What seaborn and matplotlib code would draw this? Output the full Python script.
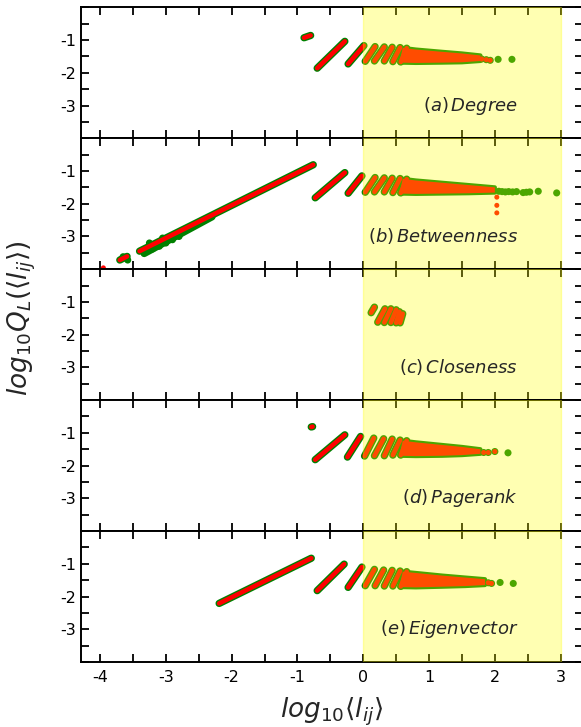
import numpy as np
import pandas as pd
import seaborn as sns
import matplotlib
matplotlib.use('Agg')
import matplotlib.pyplot as plt
from matplotlib.ticker import MultipleLocator, FuncFormatter

# streaks: (x_start, y_start, x_end, y_end)
streaks_a = [(-0.90, -0.93, -0.80, -0.86), (-0.70, -1.86, -0.28, -1.04),
             (-0.23, -1.73, 0.01, -1.17), (0.03, -1.65, 0.18, -1.20),
             (0.17, -1.64, 0.32, -1.21), (0.32, -1.64, 0.44, -1.22),
             (0.45, -1.66, 0.56, -1.23), (0.57, -1.67, 0.66, -1.25)]
streaks_b = [(-3.70, -3.72, -3.59, -3.61), (-3.40, -3.45, -0.76, -0.81),
             (-0.73, -1.82, -0.28, -1.05), (-0.23, -1.68, -0.02, -1.15),
             (0.03, -1.65, 0.18, -1.20), (0.17, -1.64, 0.32, -1.21),
             (0.32, -1.64, 0.44, -1.22), (0.45, -1.66, 0.56, -1.23),
             (0.57, -1.67, 0.66, -1.25)]
streaks_c = [(0.12, -1.33, 0.17, -1.16), (0.22, -1.62, 0.33, -1.21),
             (0.32, -1.63, 0.42, -1.21), (0.42, -1.63, 0.50, -1.24),
             (0.50, -1.64, 0.55, -1.30), (0.56, -1.64, 0.60, -1.36)]
streaks_d = [(-0.79, -0.82, -0.77, -0.81), (-0.73, -1.82, -0.28, -1.06),
             (-0.24, -1.74, -0.04, -1.11), (0.02, -1.71, 0.16, -1.16),
             (0.17, -1.70, 0.31, -1.18), (0.32, -1.70, 0.44, -1.19),
             (0.45, -1.68, 0.56, -1.22), (0.57, -1.68, 0.66, -1.24)]
streaks_e = [(-2.19, -2.21, -0.79, -0.83), (-0.70, -1.82, -0.29, -1.01),
             (-0.23, -1.72, -0.02, -1.10), (0.03, -1.67, 0.17, -1.17),
             (0.18, -1.67, 0.31, -1.19), (0.32, -1.68, 0.44, -1.20),
             (0.45, -1.68, 0.56, -1.22), (0.57, -1.69, 0.66, -1.24)]

# green-only streak (spread of the green series under the long one in (b))
green_streaks_b = [(-3.33, -3.52, -2.30, -2.40)]

# dense fan of points: upper edge and lower edge
fan_tx_a = [0.60, 0.8, 1.2, 1.5, 1.78]
fan_ty_a = [-1.24, -1.29, -1.36, -1.41, -1.47]
fan_bx_a = [0.55, 0.8, 1.2, 1.5, 1.78]
fan_by_a = [-1.69, -1.70, -1.69, -1.68, -1.64]
fan_tx_b = [0.60, 0.8, 1.2, 1.6, 2.0]
fan_ty_b = [-1.24, -1.29, -1.36, -1.43, -1.50]
fan_bx_b = [0.55, 0.8, 1.2, 1.6, 2.0]
fan_by_b = [-1.69, -1.70, -1.69, -1.68, -1.66]
fan_tx_d = [0.60, 0.8, 1.2, 1.5, 1.78]
fan_ty_d = [-1.24, -1.29, -1.37, -1.43, -1.50]
fan_bx_d = [0.55, 0.8, 1.2, 1.5, 1.78]
fan_by_d = [-1.70, -1.71, -1.70, -1.68, -1.64]
fan_tx_e = [0.60, 0.8, 1.2, 1.55, 1.85]
fan_ty_e = [-1.24, -1.28, -1.36, -1.42, -1.47]
fan_bx_e = [0.55, 0.8, 1.2, 1.55, 1.85]
fan_by_e = [-1.71, -1.72, -1.70, -1.68, -1.65]

# single points: both series (red on green)
both_x_a = [1.80, 1.87, 1.93]
both_y_a = [-1.58, -1.60, -1.62]
both_x_d = [1.83, 1.90, 2.00]
both_y_d = [-1.60, -1.60, -1.57]
both_x_e = [1.90, 1.95]
both_y_e = [-1.58, -1.60]

# green only
green_x_a = [2.05, 2.26]
green_y_a = [-1.59, -1.59]
green_x_b = [2.06, 2.11, 2.16, 2.21, 2.27, 2.33, 2.43, 2.48, 2.53, 2.66, 2.94,
             -3.30, -3.20, -3.10, -3.00, -2.90, -2.80, -3.25, -3.05, -2.70, -3.65, -3.58]
green_y_b = [-1.62, -1.63, -1.64, -1.63, -1.64, -1.63, -1.66, -1.65, -1.64, -1.62, -1.67,
             -3.45, -3.38, -3.30, -3.20, -3.10, -3.00, -3.20, -3.05, -2.78, -3.62, -3.72]
green_x_d = [2.20]
green_y_d = [-1.61]
green_x_e = [2.08, 2.28]
green_y_e = [-1.57, -1.60]

# red only
red_x_b = [2.03, 2.03, 2.03, -3.95]
red_y_b = [-1.80, -2.05, -2.28, -3.96]

labels = [r'$(a)\,Degree$', r'$(b)\,Betweenness$', r'$(c)\,Closeness$',
          r'$(d)\,Pagerank$', r'$(e)\,Eigenvector$']

panels = [
    (streaks_a, [], (fan_tx_a, fan_ty_a, fan_bx_a, fan_by_a), (both_x_a, both_y_a), (green_x_a, green_y_a), ([], [])),
    (streaks_b, green_streaks_b, (fan_tx_b, fan_ty_b, fan_bx_b, fan_by_b), ([], []), (green_x_b, green_y_b), (red_x_b, red_y_b)),
    (streaks_c, [], None, ([], []), ([], []), ([], [])),
    (streaks_d, [], (fan_tx_d, fan_ty_d, fan_bx_d, fan_by_d), (both_x_d, both_y_d), (green_x_d, green_y_d), ([], [])),
    (streaks_e, [], (fan_tx_e, fan_ty_e, fan_bx_e, fan_by_e), (both_x_e, both_y_e), (green_x_e, green_y_e), ([], [])),
]

GREEN = '#008000'
RED = '#ff0000'

sns.set_theme(style='ticks')
plt.rcParams['font.family'] = ['DejaVu Sans']
plt.rcParams['mathtext.fontset'] = 'dejavusans'


def seg_frame(segs):
    rows = []
    for i, (x0, y0, x1, y1) in enumerate(segs):
        rows.append((i, x0, y0))
        rows.append((i, x1, y1))
    return pd.DataFrame(rows, columns=['seg', 'x', 'y'])


def int_label(v, pos, lo, hi):
    if abs(v - round(v)) < 1e-6 and lo < v < hi:
        return str(int(round(v)))
    return ''


fig, axes = plt.subplots(5, 1, figsize=(5.81, 7.27), dpi=100, sharex=True)
fig.subplots_adjust(left=81 / 581, right=583 / 581, top=1 - 7.3 / 727,
                    bottom=1 - 662 / 727, hspace=0)

for k, ax in enumerate(axes):
    segs, gsegs, fan, both, gonly, ronly = panels[k]
    df = seg_frame(segs)

    # green series (bigger marks) underneath
    sns.lineplot(data=seg_frame(segs + gsegs), x='x', y='y', units='seg', estimator=None,
                 sort=False, color=GREEN, lw=5.3, solid_capstyle='round', ax=ax,
                 legend=False, zorder=2)
    if fan is not None:
        fx = list(fan[0]) + list(fan[2])[::-1]
        fy = list(fan[1]) + list(fan[3])[::-1]
        ax.fill(fx, fy, facecolor=GREEN, edgecolor=GREEN, lw=3, joinstyle='round', zorder=2)
    gx = list(both[0]) + list(gonly[0])
    gy = list(both[1]) + list(gonly[1])
    if gx:
        sns.scatterplot(x=gx, y=gy, s=26, color=GREEN, edgecolor='none', ax=ax, zorder=2)

    # red series on top
    sns.lineplot(data=df, x='x', y='y', units='seg', estimator=None, sort=False,
                 color=RED, lw=3.3, solid_capstyle='round', ax=ax, legend=False, zorder=3)
    if fan is not None:
        ax.fill(fx, fy, facecolor=RED, lw=0, zorder=3)
    rx = list(both[0]) + list(ronly[0])
    ry = list(both[1]) + list(ronly[1])
    if rx:
        sns.scatterplot(x=rx, y=ry, s=13, color=RED, edgecolor='none', ax=ax, zorder=3)

    ax.axvspan(0, 3, color='yellow', alpha=0.3, lw=1, zorder=4)

    ax.text(2.35, -3.0, labels[k], ha='right', va='center', fontsize=13, zorder=5)

    ax.set_xlim(-4.29, 3.34)
    ax.set_ylim(-4, 0)
    ax.xaxis.set_major_locator(MultipleLocator(0.5))
    ax.yaxis.set_major_locator(MultipleLocator(0.5))
    ax.xaxis.set_major_formatter(FuncFormatter(lambda v, p: int_label(v, p, -5, 4)))
    ax.yaxis.set_major_formatter(FuncFormatter(lambda v, p: int_label(v, p, -4, 0)))
    ax.tick_params(direction='in', top=True, right=True, length=6, width=1.3,
                   labelsize=11.5, colors='black')
    ax.tick_params(axis='x', labelbottom=(k == 4), pad=6)
    ax.set_xlabel('')
    ax.set_ylabel('')
    for sp in ax.spines.values():
        sp.set_linewidth(1.4)
        sp.set_color('black')

fig.text(22 / 581, 1 - 318 / 727, r'$log_{10}Q_L(\langle l_{ij}\rangle)$',
         rotation=90, ha='center', va='center', fontsize=19)
fig.text(332 / 581, 1 - 712 / 727, r'$log_{10}\langle l_{ij}\rangle$',
         ha='center', va='center', fontsize=19)

fig.savefig('out.png', dpi=100)
